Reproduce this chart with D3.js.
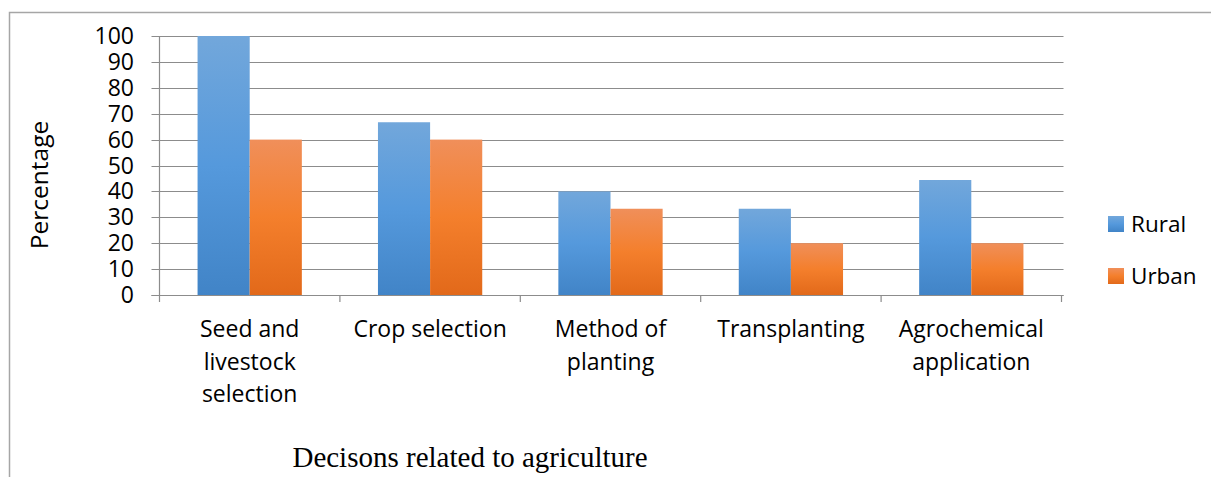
<!DOCTYPE html>
<html>
<head>
<meta charset="utf-8">
<script src="https://cdn.jsdelivr.net/npm/d3@7"></script>
<style>
  html, body { margin: 0; padding: 0; background: #fff; }
  svg { display: block; }
</style>
</head>
<body>
<svg id="chart" width="1211" height="477"></svg>
<script>
// Share of decisions taken, by area type
const categories = [
  ["Seed and", "livestock", "selection"],
  ["Crop selection"],
  ["Method of", "planting"],
  ["Transplanting"],
  ["Agrochemical", "application"]
];
const categoryKeys = ["seed", "crop", "method", "transplant", "agro"];
const seriesNames = ["Rural", "Urban"];
const ruralValues = [100, 66.7, 40, 33.3, 44.4];
const urbanValues = [60, 60, 33.3, 20, 20];
const yTicks = [0, 10, 20, 30, 40, 50, 60, 70, 80, 90, 100];
const yLabel = "Percentage";
const xLabel = "Decisons related to agriculture";

const svg = d3.select("#chart");
const W = 1211, H = 477;
const plot = { left: 159.5, right: 1061.5, top: 36, bottom: 295 };
const sansFont = "'Open Sans', 'Noto Sans', sans-serif";

// Outer frame of the chart area (top and left edges visible)
svg.append("path")
  .attr("d", `M9.5,${H} V12.5 H${W}`)
  .attr("fill", "none")
  .attr("stroke", "#a6a6a6")
  .attr("stroke-width", 1.5);

// Gradients for the bar fills
const defs = svg.append("defs");
const gradStops = {
  Rural: ["#72a7db", "#5599dc", "#4184c7"],
  Urban: ["#f08f5a", "#f47f2c", "#e2691a"]
};
seriesNames.forEach(name => {
  const g = defs.append("linearGradient")
    .attr("id", "grad-" + name)
    .attr("x1", 0).attr("y1", 0).attr("x2", 0).attr("y2", 1);
  const s = gradStops[name];
  g.append("stop").attr("offset", "0%").attr("stop-color", s[0]);
  g.append("stop").attr("offset", "50%").attr("stop-color", s[1]);
  g.append("stop").attr("offset", "100%").attr("stop-color", s[2]);
});

const x0 = d3.scaleBand()
  .domain(categoryKeys)
  .range([plot.left, plot.right])
  .paddingInner(0)
  .paddingOuter(0);
const x1 = d3.scaleBand()
  .domain(seriesNames)
  .range([0, x0.bandwidth()])
  .paddingInner(0)
  .paddingOuter(0.73);
const y = d3.scaleLinear().domain([0, 100]).range([plot.bottom, plot.top]);

// Horizontal gridlines with small tick stubs to the left of the axis
const grid = svg.append("g");
grid.selectAll("line")
  .data(yTicks)
  .join("line")
  .attr("x1", plot.left - 8)
  .attr("x2", plot.right + 2)
  .attr("y1", d => Math.round(y(d)) + 0.5)
  .attr("y2", d => Math.round(y(d)) + 0.5)
  .attr("stroke", "#8c8c8c")
  .attr("stroke-width", 1.2);

// Bars
const series = seriesNames.map((name, i) => ({
  name,
  values: i === 0 ? ruralValues : urbanValues
}));
series.forEach(s => {
  svg.append("g")
    .selectAll("rect")
    .data(s.values.map((v, i) => ({ key: categoryKeys[i], v })))
    .join("rect")
    .attr("x", d => x0(d.key) + x1(s.name))
    .attr("width", x1.bandwidth())
    .attr("y", d => y(d.v))
    .attr("height", d => y(0) - y(d.v))
    .attr("fill", `url(#grad-${s.name})`);
});

// Y axis line
svg.append("line")
  .attr("x1", plot.left).attr("x2", plot.left)
  .attr("y1", plot.top).attr("y2", plot.bottom + 7)
  .attr("stroke", "#8c8c8c").attr("stroke-width", 1.2);

// X axis baseline and category separators
svg.append("line")
  .attr("x1", plot.left - 8).attr("x2", plot.right + 2)
  .attr("y1", Math.round(y(0)) + 0.5).attr("y2", Math.round(y(0)) + 0.5)
  .attr("stroke", "#8c8c8c").attr("stroke-width", 1.2);
const boundaries = categoryKeys.map(k => x0(k)).concat([plot.right]).slice(1);
svg.append("g").selectAll("line")
  .data(boundaries)
  .join("line")
  .attr("x1", d => d).attr("x2", d => d)
  .attr("y1", plot.bottom).attr("y2", plot.bottom + 7)
  .attr("stroke", "#8c8c8c").attr("stroke-width", 1.2);

// Y tick labels
svg.append("g").selectAll("text")
  .data(yTicks)
  .join("text")
  .attr("x", 134)
  .attr("y", d => y(d))
  .attr("dy", "0.35em")
  .attr("text-anchor", "end")
  .attr("font-family", sansFont)
  .attr("font-size", 23)
  .attr("fill", "#000")
  .text(d => d);

// Category labels (wrapped over several lines)
const catG = svg.append("g");
categories.forEach((lines, i) => {
  const cx = x0(categoryKeys[i]) + x0.bandwidth() / 2;
  const t = catG.append("text")
    .attr("text-anchor", "middle")
    .attr("font-family", sansFont)
    .attr("font-size", 23)
    .attr("fill", "#000");
  lines.forEach((ln, j) => {
    t.append("tspan").attr("x", cx).attr("y", 337 + j * 32.5).text(ln);
  });
});

// Y axis title
svg.append("text")
  .attr("transform", "translate(48,185) rotate(-90)")
  .attr("text-anchor", "middle")
  .attr("font-family", sansFont)
  .attr("font-size", 24.5)
  .attr("fill", "#000")
  .text(yLabel);

// X axis title
svg.append("text")
  .attr("x", 470)
  .attr("y", 467)
  .attr("text-anchor", "middle")
  .attr("font-family", "'Liberation Serif', 'Times New Roman', serif")
  .attr("font-size", 29)
  .attr("fill", "#000")
  .text(xLabel);

// Legend
const legend = svg.append("g");
seriesNames.forEach((name, i) => {
  const ly = 216 + i * 52;
  legend.append("rect")
    .attr("x", 1108).attr("y", ly)
    .attr("width", 16).attr("height", 16)
    .attr("fill", `url(#grad-${name})`);
  legend.append("text")
    .attr("x", 1131).attr("y", ly + 8)
    .attr("dy", "0.35em")
    .attr("font-family", sansFont)
    .attr("font-size", 22.5)
    .attr("fill", "#000")
    .text(name);
});
</script>
</body>
</html>
